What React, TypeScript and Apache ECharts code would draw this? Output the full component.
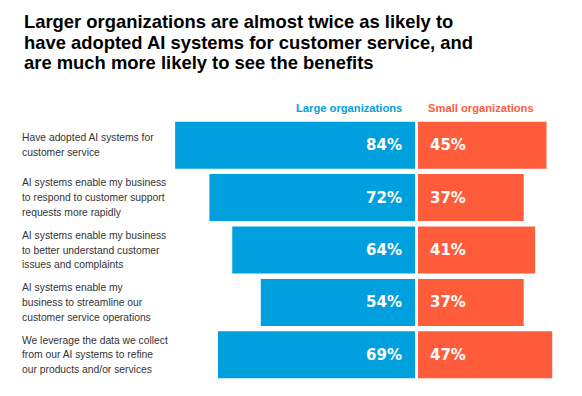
import React, { useEffect, useRef } from "react";
import * as echarts from "echarts";

const categories = [
  "Have adopted AI systems for\ncustomer service",
  "AI systems enable my business\nto respond to customer support\nrequests more rapidly",
  "AI systems enable my business\nto better understand customer\nissues and complaints",
  "AI systems enable my\nbusiness to streamline our\ncustomer service operations",
  "We leverage the data we collect\nfrom our AI systems to refine\nour products and/or services",
];
const largeOrgs = [84, 72, 64, 54, 69];
const smallOrgs = [45, 37, 41, 37, 47];
const seriesNames = ["Large organizations", "Small organizations"];
const titleText =
  "Larger organizations are almost twice as likely to\nhave adopted AI systems for customer service, and\nare much more likely to see the benefits";

const BLUE = "#00a0df";
const ORANGE = "#ff5c3b";

export default function App() {
  const ref = useRef<HTMLDivElement>(null);
  useEffect(() => {
    if (!ref.current) return;
    const chart = echarts.init(ref.current, null, { renderer: "svg" });
    const top = 119;
    const height = 262;
    chart.setOption({
      animation: false,
      backgroundColor: "#ffffff",
      title: {
        text: titleText,
        left: 19,
        top: 6,
        textStyle: {
          fontFamily: "Liberation Sans",
          fontSize: 18.4,
          fontWeight: "bold",
          lineHeight: 20.7,
          color: "#000000",
        },
      },
      graphic: [
        {
          type: "text",
          left: 296,
          top: 102,
          style: {
            text: seriesNames[0],
            fill: BLUE,
            font: "bold 11.2px 'Liberation Sans'",
          },
        },
        {
          type: "text",
          left: 428,
          top: 102,
          style: {
            text: seriesNames[1],
            fill: ORANGE,
            font: "bold 11.2px 'Liberation Sans'",
          },
        },
      ],
      grid: [
        { left: 158, top, width: 257, height },
        { left: 418, top, width: 142.8, height },
      ],
      xAxis: [
        { gridIndex: 0, type: "value", min: 0, max: 90, inverse: true, show: false },
        { gridIndex: 1, type: "value", min: 0, max: 50, show: false },
      ],
      yAxis: [
        {
          gridIndex: 0,
          type: "category",
          data: categories,
          inverse: true,
          axisLine: { show: false },
          axisTick: { show: false },
          axisLabel: {
            align: "left",
            margin: 136,
            fontFamily: "Liberation Sans",
            fontSize: 10.3,
            lineHeight: 14.7,
            color: "#333333",
          },
        },
        {
          gridIndex: 1,
          type: "category",
          data: categories,
          inverse: true,
          show: false,
        },
      ],
      series: [
        {
          name: seriesNames[0],
          type: "bar",
          xAxisIndex: 0,
          yAxisIndex: 0,
          data: largeOrgs,
          barWidth: 47,
          itemStyle: { color: BLUE },
          label: {
            show: true,
            position: "insideRight",
            distance: 13,
            formatter: "{c}%",
            color: "#ffffff",
            fontFamily: "DejaVu Sans",
            fontWeight: "bold",
            fontSize: 15,
          },
        },
        {
          name: seriesNames[1],
          type: "bar",
          xAxisIndex: 1,
          yAxisIndex: 1,
          data: smallOrgs,
          barWidth: 47,
          itemStyle: { color: ORANGE },
          label: {
            show: true,
            position: "insideLeft",
            distance: 12,
            formatter: "{c}%",
            color: "#ffffff",
            fontFamily: "DejaVu Sans",
            fontWeight: "bold",
            fontSize: 15,
          },
        },
      ],
    });
    return () => chart.dispose();
  }, []);
  return (
    <div
      ref={ref}
      style={{ position: "absolute", left: 0, top: 0, width: 582, height: 396 }}
    />
  );
}
